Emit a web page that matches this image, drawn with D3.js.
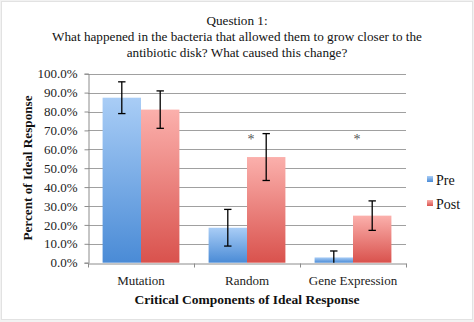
<!DOCTYPE html>
<html>
<head>
<meta charset="utf-8">
<script src="https://cdn.jsdelivr.net/npm/d3@7"></script>
<style>
  html, body { margin: 0; padding: 0; background: #f2f2f2; }
  svg { display: block; }
  svg text { font-family: "Liberation Serif", "Times New Roman", "DejaVu Serif", serif; }
</style>
</head>
<body>
<svg id="chart" width="474" height="322"></svg>
<script>
// Survey results: share of ideal response components, before and after instruction
const titleLines = [
  "Question 1:",
  "What happened in the bacteria that allowed them to grow closer to the",
  "antibiotic disk? What caused this change?"
];
const categories = ["Mutation", "Random", "Gene Expression"];
const seriesNames = ["Pre", "Post"];
const preValues = [87.3, 18.5, 2.8];
const postValues = [81.0, 55.9, 24.9];
const preErrors = [8.4, 9.7, 3.4];
const postErrors = [9.9, 12.4, 7.8];
const significant = [false, true, true];
const yTicks = [0, 10, 20, 30, 40, 50, 60, 70, 80, 90, 100];

const svg = d3.select("#chart");

// page frame
svg.append("rect").attr("x", 1.5).attr("y", 1.5).attr("width", 471).attr("height", 318)
  .attr("fill", "#ffffff").attr("stroke", "#e2e2e2").attr("stroke-width", 1);

const m = { left: 88, right: 406, top: 73.7, bottom: 262.7 };

const x = d3.scaleBand().domain(categories).range([m.left, m.right]).paddingInner(0).paddingOuter(0);
const inner = d3.scaleBand().domain(seriesNames).range([0, x.bandwidth()]).paddingInner(0).paddingOuter(0.38);
const y = d3.scaleLinear().domain([0, 100]).range([m.bottom, m.top]);

// gradients
const defs = svg.append("defs");
const grads = [
  { id: "gPre", top: "#a9cdf6", bottom: "#4a8bd6" },
  { id: "gPost", top: "#fbb0ac", bottom: "#d9524d" }
];
grads.forEach(g => {
  const lg = defs.append("linearGradient").attr("id", g.id)
    .attr("x1", 0).attr("y1", 0).attr("x2", 0).attr("y2", 1);
  lg.append("stop").attr("offset", "0%").attr("stop-color", g.top);
  lg.append("stop").attr("offset", "100%").attr("stop-color", g.bottom);
});

// title
svg.append("text")
  .attr("x", 237).attr("font-size", 13.2).attr("fill", "#111")
  .attr("text-anchor", "middle")
  .selectAll("tspan").data(titleLines).join("tspan")
  .attr("x", 237).attr("y", (d, i) => 24.5 + i * 16.3).text(d => d);

// gridlines
svg.append("g").selectAll("line").data(yTicks.slice(1)).join("line")
  .attr("x1", m.left).attr("x2", m.right)
  .attr("y1", d => Math.round(y(d)) + 0.5).attr("y2", d => Math.round(y(d)) + 0.5)
  .attr("stroke", "#a0a0a0").attr("stroke-width", 1);

// y axis
const yAxis = d3.axisLeft(y).tickValues(yTicks).tickSize(4).tickPadding(7)
  .tickFormat(d => d.toFixed(1) + "%");
const yg = svg.append("g").attr("transform", `translate(${m.left + 0.5},0)`).call(yAxis)
  .attr("font-family", null);
yg.select(".domain").attr("stroke", "#8c8c8c");
yg.selectAll(".tick line").attr("stroke", "#8c8c8c");
yg.selectAll(".tick text").attr("font-size", 13).attr("fill", "#222");

// x axis
const xAxis = d3.axisBottom(x).tickSize(0).tickPadding(12);
const xg = svg.append("g").attr("transform", `translate(0,${Math.round(m.bottom) + 0.5})`).call(xAxis)
  .attr("font-family", null);
xg.select(".domain").attr("stroke", "#8c8c8c");
xg.selectAll(".tick text").attr("font-size", 13).attr("fill", "#222");
// category boundary ticks
const bounds = categories.map(c => x(c)).concat([x(categories[categories.length - 1]) + x.bandwidth()]);
xg.selectAll(".bound").data(bounds).join("line").attr("class", "bound")
  .attr("x1", d => d + 0.5).attr("x2", d => d + 0.5).attr("y1", 0).attr("y2", 4)
  .attr("stroke", "#8c8c8c");

// bars
const rows = categories.map((c, i) => ({
  cat: c,
  items: [
    { s: "Pre", v: preValues[i], e: preErrors[i], fill: "url(#gPre)" },
    { s: "Post", v: postValues[i], e: postErrors[i], fill: "url(#gPost)" }
  ]
}));

const groups = svg.append("g").selectAll("g").data(rows).join("g")
  .attr("transform", d => `translate(${x(d.cat)},0)`);

groups.selectAll("rect").data(d => d.items).join("rect")
  .attr("x", d => inner(d.s)).attr("width", inner.bandwidth())
  .attr("y", d => y(d.v)).attr("height", d => y(0) - y(d.v))
  .attr("fill", d => d.fill);

// error bars
const eb = groups.selectAll("g.err").data(d => d.items).join("g").attr("class", "err")
  .attr("transform", d => `translate(${inner(d.s) + inner.bandwidth() / 2},0)`);
eb.append("line").attr("x1", 0).attr("x2", 0)
  .attr("y1", d => y(Math.min(100, d.v + d.e))).attr("y2", d => y(Math.max(0, d.v - d.e)))
  .attr("stroke", "#000").attr("stroke-width", 1.3);
eb.append("line").attr("x1", -3.7).attr("x2", 3.7)
  .attr("y1", d => y(Math.min(100, d.v + d.e))).attr("y2", d => y(Math.min(100, d.v + d.e)))
  .attr("stroke", "#000").attr("stroke-width", 1.3);
eb.filter(d => d.v - d.e > 0).append("line").attr("x1", -3.7).attr("x2", 3.7)
  .attr("y1", d => y(d.v - d.e)).attr("y2", d => y(d.v - d.e))
  .attr("stroke", "#000").attr("stroke-width", 1.3);

// significance markers
groups.filter((d, i) => significant[i]).append("text")
  .attr("x", inner("Post") + 4).attr("y", y(68) + 10)
  .attr("font-size", 14).attr("fill", "#555")
  .attr("text-anchor", "middle").text("*");

// axis titles
svg.append("text").attr("x", 247).attr("y", 303.5).attr("text-anchor", "middle")
  .attr("font-size", 13.5).attr("font-weight", "bold").attr("fill", "#111")
  .text("Critical Components of Ideal Response");
svg.append("text").attr("transform", "translate(31.5,168) rotate(-90)").attr("text-anchor", "middle")
  .attr("font-size", 13.2).attr("font-weight", "bold").attr("fill", "#111")
  .text("Percent of Ideal Response");

// legend
const legend = svg.append("g").selectAll("g").data(seriesNames).join("g")
  .attr("transform", (d, i) => `translate(427,${176 + i * 24})`);
legend.append("rect").attr("width", 6).attr("height", 6)
  .attr("fill", (d, i) => i === 0 ? "url(#gPre)" : "url(#gPost)");
legend.append("text").attr("x", 9).attr("y", 9)
  .attr("font-size", 14).attr("fill", "#111").text(d => d);
</script>
</body>
</html>
